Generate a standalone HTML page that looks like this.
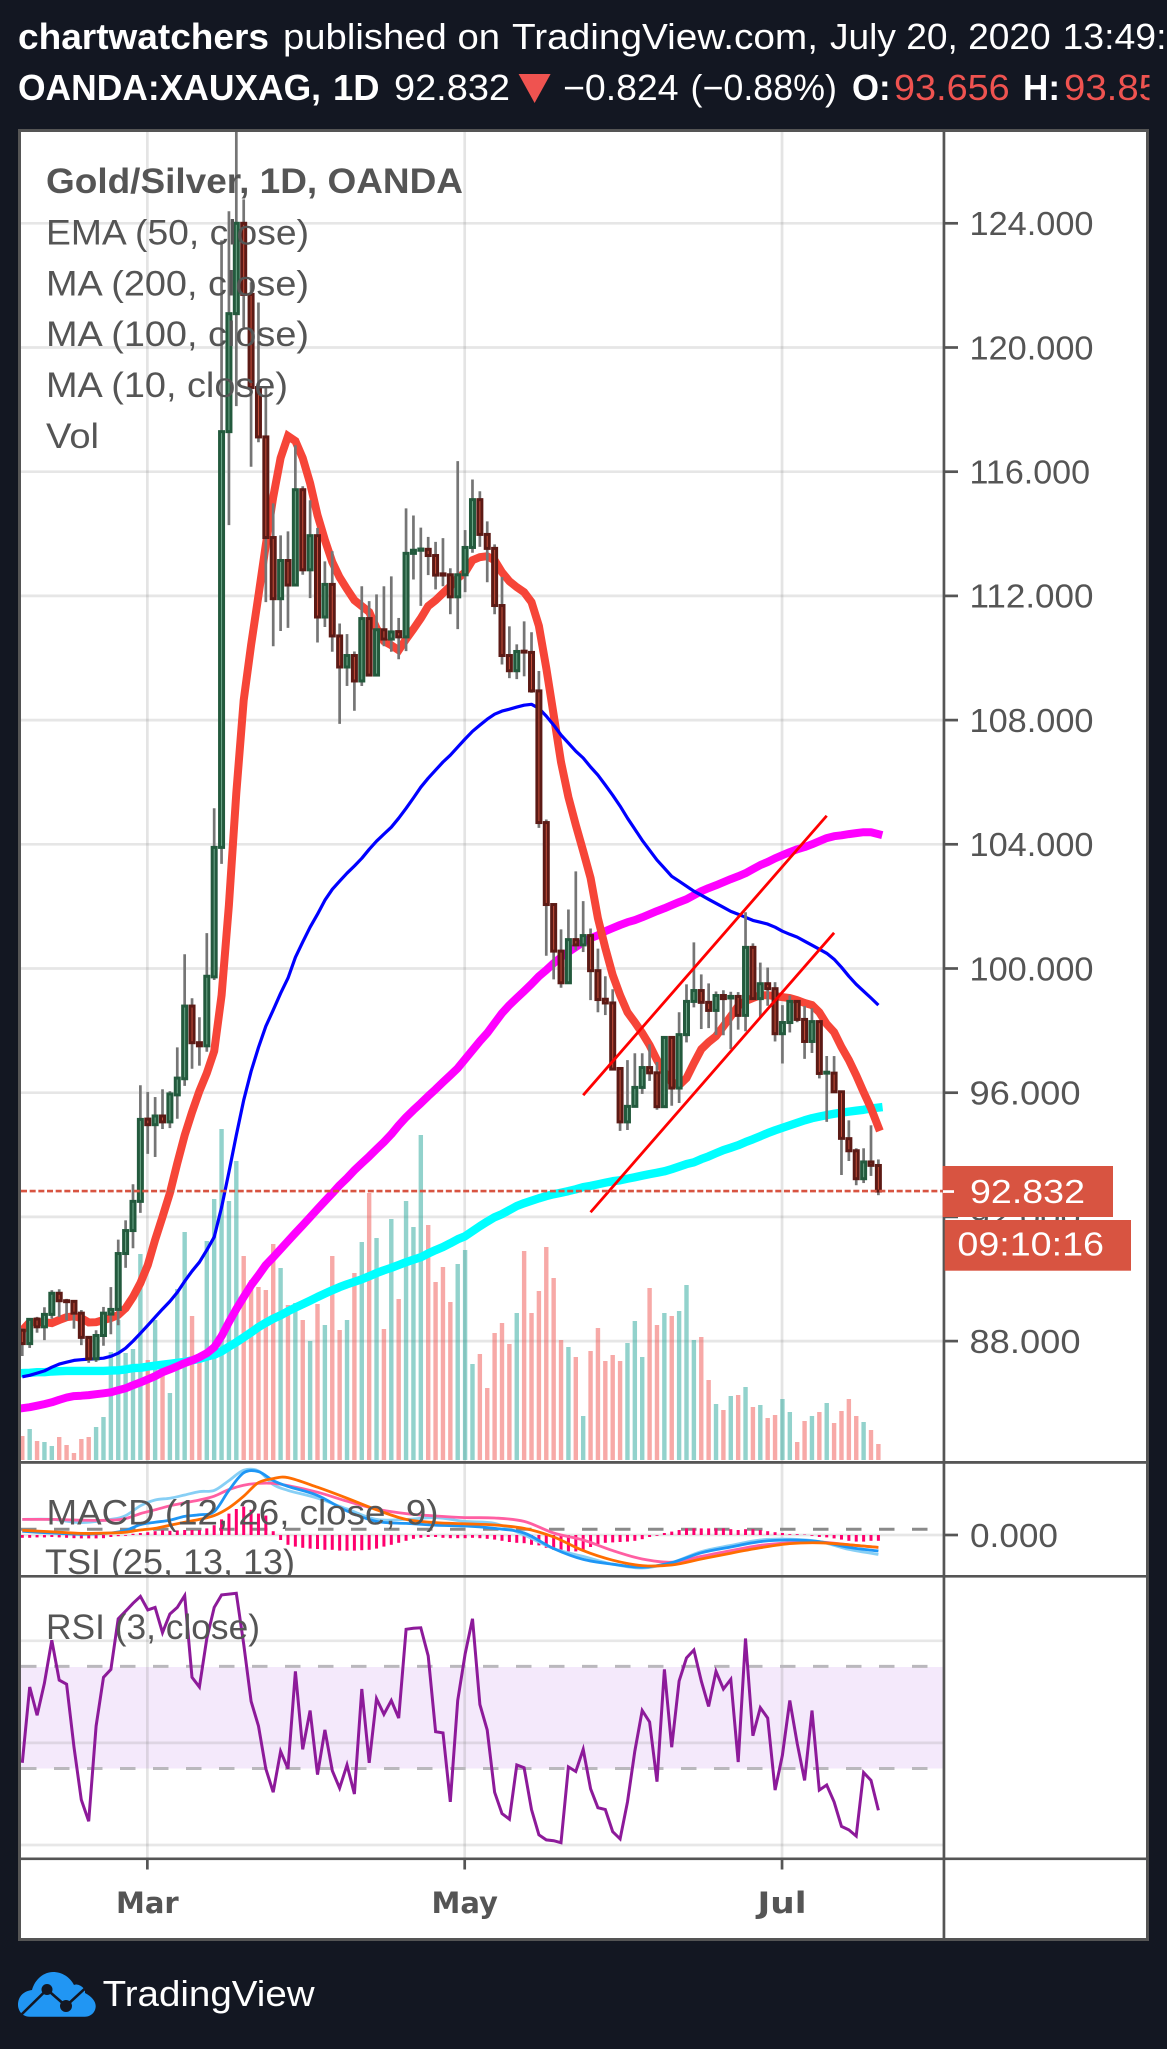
<!DOCTYPE html>
<html lang="en">
<head>
<meta charset="utf-8">
<title>Gold/Silver 1D chart</title>
<style>
html,body{margin:0;padding:0;background:#131722;width:1167px;height:2049px;overflow:hidden}
svg{display:block;position:absolute;left:0;top:0}
text{font-family:"Liberation Sans","DejaVu Sans",sans-serif}
.hd{font-size:36px;fill:#fff}
.b{font-weight:700}
.rd{fill:#ef5350}
.lg{font-size:35px;fill:#555}
.ax{font-size:33px;fill:#555}
.tm{font-family:"DejaVu Sans","Liberation Sans",sans-serif;font-weight:700;font-size:29px;fill:#555}
.lb{font-size:33px;fill:#fff}
</style>
</head>
<body>
<svg id="chart" width="1167" height="2049" viewBox="0 0 1167 2049">
<defs>
<clipPath id="clipMain"><rect x="21" y="132" width="922" height="1329"/></clipPath>
<clipPath id="clipMacd"><rect x="21" y="1464" width="922" height="111"/></clipPath>
<clipPath id="clipRsi"><rect x="21" y="1577.5" width="922" height="280"/></clipPath>
<clipPath id="clipHead"><rect x="0" y="60" width="1149.5" height="60"/></clipPath>
</defs>

<g>
<text class="hd b" x="18" y="49" textLength="251" lengthAdjust="spacingAndGlyphs">chartwatchers</text>
<text class="hd" x="283" y="49" textLength="217" lengthAdjust="spacingAndGlyphs">published on</text>
<text class="hd" x="512" y="49" textLength="306" lengthAdjust="spacingAndGlyphs">TradingView.com,</text>
<text class="hd" x="830" y="49" textLength="220.6" lengthAdjust="spacingAndGlyphs">July 20, 2020</text>
<text class="hd" x="1062.5" y="49" textLength="104" lengthAdjust="spacingAndGlyphs">13:49:</text>
</g>
<g clip-path="url(#clipHead)">
<text class="hd b" x="18" y="100" textLength="303" lengthAdjust="spacingAndGlyphs">OANDA:XAUXAG,</text>
<text class="hd b" x="333" y="100" textLength="46.5" lengthAdjust="spacingAndGlyphs">1D</text>
<text class="hd" x="394" y="100" textLength="116" lengthAdjust="spacingAndGlyphs">92.832</text>
<polygon points="518.6,74 550.6,74 534.6,103" fill="#ef5350"/>
<text class="hd" x="563" y="100" textLength="115.6" lengthAdjust="spacingAndGlyphs">−0.824</text>
<text class="hd" x="690.5" y="100" textLength="146.5" lengthAdjust="spacingAndGlyphs">(−0.88%)</text>
<text class="hd b" x="852" y="100" textLength="38.6" lengthAdjust="spacingAndGlyphs">O:</text>
<text class="hd rd" x="894" y="100" textLength="115.7" lengthAdjust="spacingAndGlyphs">93.656</text>
<text class="hd b" x="1023" y="100" textLength="37" lengthAdjust="spacingAndGlyphs">H:</text>
<text class="hd rd" x="1064" y="100" textLength="96" lengthAdjust="spacingAndGlyphs">93.85</text>
</g>

<rect x="19.5" y="130.5" width="1128" height="1809" fill="#fff" stroke="#555" stroke-width="3"/>

<g id="gridLayer"></g>
<rect x="21" y="1667" width="922" height="101.5" fill="#f4e9fb"/>
<g id="rsiGrid"></g>
<g id="vertGrid"></g>

<g clip-path="url(#clipMain)">
<g id="volLayer"></g>
<g id="maLayer"></g>
<g id="candleLayer"></g>
<g id="trendLayer"></g>
<line id="priceLine" x1="21" x2="943" stroke="#d85441" stroke-width="2.7" stroke-dasharray="6 2.67"/>
</g>

<g clip-path="url(#clipMacd)">
<line x1="21" x2="943" y1="1529.3" y2="1529.3" stroke="#8a8a8a" stroke-width="3" stroke-dasharray="15.5 17.5"/>
<g id="histLayer"></g>
<g id="macdLayer"></g>
<text class="lg" x="46.5" y="1524.7" textLength="392" lengthAdjust="spacingAndGlyphs">MACD (12, 26, close, 9)</text>
<text class="lg" x="45" y="1574" textLength="250" lengthAdjust="spacingAndGlyphs">TSI (25, 13, 13)</text>
</g>

<g clip-path="url(#clipRsi)">
<line x1="21" x2="943" y1="1666.4" y2="1666.4" stroke="#bab8bd" stroke-width="3" stroke-dasharray="15.5 17.5"/>
<line x1="21" x2="943" y1="1768.5" y2="1768.5" stroke="#bab8bd" stroke-width="3" stroke-dasharray="15.5 17.5"/>
<polyline id="rsiLine" fill="none" stroke="#8d1a9a" stroke-width="3" stroke-linejoin="miter"/>
<text class="lg" x="46" y="1639" textLength="214" lengthAdjust="spacingAndGlyphs">RSI (3, close)</text>
</g>

<g>
<text class="lg b" x="46" y="193" textLength="417" lengthAdjust="spacingAndGlyphs">Gold/Silver, 1D, OANDA</text>
<text class="lg" x="46" y="244.5" textLength="263" lengthAdjust="spacingAndGlyphs">EMA (50, close)</text>
<text class="lg" x="46" y="295.5" textLength="263" lengthAdjust="spacingAndGlyphs">MA (200, close)</text>
<text class="lg" x="46" y="346" textLength="263" lengthAdjust="spacingAndGlyphs">MA (100, close)</text>
<text class="lg" x="46" y="397" textLength="242" lengthAdjust="spacingAndGlyphs">MA (10, close)</text>
<text class="lg" x="46" y="448" textLength="53" lengthAdjust="spacingAndGlyphs">Vol</text>
</g>

<g>
<rect x="21" y="1461" width="1125" height="2.8" fill="#555"/>
<rect x="21" y="1575" width="1125" height="2.6" fill="#555"/>
<rect x="21" y="1857.5" width="1125" height="2.6" fill="#555"/>
<rect x="942.6" y="132" width="2.7" height="1806" fill="#555"/>
</g>

<g id="axisLayer"></g>
<g id="timeLayer"></g>

<g>
<rect x="942.6" y="1166" width="170.4" height="51" fill="#d85441"/>
<rect x="943" y="1190.2" width="11" height="2.7" fill="#fff"/>
<text class="lb" x="970" y="1203" textLength="115" lengthAdjust="spacingAndGlyphs">92.832</text>
</g>
<g>
<rect x="944.7" y="1220" width="186.3" height="50.7" fill="#d85441"/>
<text class="lb" x="957.4" y="1255.5" textLength="146.6" lengthAdjust="spacingAndGlyphs">09:10:16</text>
</g>

<g>
<path d="M30 2016.7C20 2016.7 18 2008 18 2005C18 1996 24 1991 32 1990C35 1979 44 1972 53 1972C62 1972 70 1977 74 1985C78 1983 86 1988 85 1993C91 1996 95.7 2001 95.7 2006C95.7 2012 91 2016.7 85 2016.7Z" fill="#2196f3"/>
<polyline points="21,2015 47,1989.5 66,2006 86,1987.6" fill="none" stroke="#131722" stroke-width="2.6"/>
<circle cx="47" cy="1989.5" r="5.5" fill="#131722"/>
<circle cx="66" cy="2006" r="6" fill="#131722"/>
<text x="102.6" y="2006" font-size="36" fill="#fff" textLength="212" lengthAdjust="spacingAndGlyphs">TradingView</text>
</g>
</svg>

<script>
/* ---------- candle data ---------- */
const opens=[88.35,87.92,88.71,88.46,88.86,89.54,89.30,89.28,88.90,88.12,
87.43,88.18,88.87,89.02,90.82,91.56,92.50,95.15,94.97,95.25,
95.06,95.93,96.45,98.79,97.61,97.51,99.73,103.90,117.29,121.09,
124.0,121.71,118.71,117.12,113.88,111.91,113.14,112.35,115.42,112.84,
113.94,111.32,112.37,110.71,109.71,110.08,109.26,111.27,109.45,110.91,
110.61,110.85,110.68,113.37,113.47,113.50,113.30,112.71,112.68,111.97,
112.68,113.56,115.10,113.98,113.53,111.69,110.08,109.59,110.22,110.18,
108.94,104.70,102.06,100.56,99.54,100.93,100.76,101.06,99.93,99.01,
98.89,96.78,95.06,95.56,96.17,96.81,96.64,95.55,97.78,96.15,
97.87,98.94,99.29,98.91,98.65,99.13,99.05,99.10,98.49,100.68,
99.03,99.51,99.35,97.90,98.26,98.94,98.36,97.65,98.29,96.63,
96.63,96.03,94.52,94.13,93.23,93.77,93.656];
const closes=[87.92,88.70,88.46,88.86,89.54,89.30,89.27,88.90,88.12,87.43,
88.18,88.90,89.02,90.82,91.56,92.50,95.14,94.97,95.25,95.06,
95.96,96.47,98.79,97.61,97.51,99.75,103.90,117.29,121.09,124.0,
121.71,118.71,117.12,113.88,111.91,113.14,112.35,115.42,112.84,113.94,
111.32,112.37,110.71,109.71,110.08,109.26,111.27,109.45,110.91,110.61,
110.84,110.68,113.37,113.47,113.51,113.30,112.67,112.67,111.97,112.68,
113.56,115.10,113.98,113.53,111.69,110.08,109.59,110.21,110.19,108.94,
104.70,102.06,100.56,99.54,100.93,100.76,101.06,99.93,99.0,98.89,
96.76,95.06,95.56,96.17,96.81,96.64,95.55,97.78,96.15,97.87,
98.94,99.29,98.91,98.65,99.13,99.03,99.10,98.49,100.68,99.03,
99.51,99.35,97.90,98.26,98.94,98.36,97.65,98.29,96.62,96.66,
96.03,94.53,94.13,93.23,93.77,93.66,92.832];
const highs=[88.41,88.73,88.78,89.09,89.64,89.67,89.36,89.32,89.00,88.16,
88.35,89.10,89.74,91.27,91.89,93.05,96.24,96.02,95.86,96.11,
96.05,97.46,100.46,99.04,98.43,101.14,105.16,123.45,124.39,127.0,
124.77,122.1,121.45,118.69,114.98,113.95,114.08,116.85,115.53,115.08,
114.19,113.11,113.44,111.11,110.77,110.21,112.31,111.83,112.05,112.31,
112.63,111.29,114.82,114.59,114.20,113.90,113.74,113.86,112.89,116.34,
114.12,115.75,115.37,114.40,113.66,112.61,111.02,110.44,111.18,110.83,
109.58,104.80,102.07,101.26,101.90,103.13,102.17,101.29,100.64,99.75,
99.33,96.79,97.05,97.27,97.27,97.56,96.99,97.79,97.79,98.59,
99.49,100.84,99.81,99.52,99.26,99.30,99.25,99.24,101.81,100.81,
100.19,100.03,99.56,98.82,99.13,98.95,98.79,98.72,98.30,97.18,
97.18,96.05,95.11,94.21,94.21,94.95,93.85];
const lows=[87.52,87.78,88.27,88.03,88.72,88.78,88.67,88.40,87.87,87.30,
87.33,87.85,88.22,88.51,90.36,90.99,92.13,94.03,93.93,94.83,
94.86,95.16,96.22,96.77,96.87,97.32,99.63,103.37,114.28,118.11,
120.64,116.16,116.95,111.80,110.38,110.87,110.97,112.34,112.68,111.93,
110.50,111.0,110.2,107.88,109.10,108.30,109.10,109.45,109.45,110.38,
110.20,109.96,110.22,112.53,111.68,112.67,112.21,112.31,111.41,110.93,
112.12,113.39,113.58,112.44,111.41,109.79,109.35,109.32,109.41,108.88,
104.53,100.41,99.65,99.38,99.54,100.59,100.53,98.98,98.59,98.50,
96.76,94.77,94.80,95.56,95.96,96.38,95.45,95.55,95.58,95.67,
97.62,98.75,98.05,98.08,97.86,97.85,97.40,98.03,97.98,99.03,
98.41,98.80,97.65,96.94,97.94,98.27,97.09,97.28,96.46,95.06,
96.03,93.35,93.80,93.02,93.09,93.32,92.70];
const volumes=[24,31,19,18,14,23,15,7,21,23,33,43,108,140,107,111,206,100,140,87,
67,171,228,144,100,219,261,331,259,299,204,180,173,170,216,192,155,157,140,119,
156,135,204,130,140,187,218,267,222,131,241,161,259,233,325,235,178,193,158,196,
210,96,106,72,127,137,116,147,209,147,169,213,182,120,113,103,44,109,132,99,
105,99,117,139,103,172,135,147,144,149,175,120,123,80,56,50,64,65,73,53,
55,42,45,61,48,18,39,44,48,57,37,49,61,44,38,30,16];

/* ---------- moving averages ---------- */
const ma10=[88.35,88.61,88.61,88.61,88.58,88.68,88.77,88.80,88.74,88.60,
88.61,88.68,88.74,88.84,89.06,89.42,89.87,90.45,91.26,92.0,
92.77,93.73,94.63,95.37,96.05,96.63,97.34,99.14,102.04,105.65,
108.64,110.42,112.02,113.64,115.18,116.44,117.15,116.99,116.44,115.63,
114.60,113.80,113.09,112.60,112.22,111.86,111.67,111.48,110.96,110.54,
110.41,110.25,110.61,110.93,111.28,111.67,111.86,112.09,112.31,112.57,
112.76,113.15,113.25,113.28,113.15,112.76,112.47,112.28,112.12,111.80,
111.03,109.67,108.16,106.65,105.52,104.62,103.78,102.91,101.62,100.66,
99.79,99.14,98.59,98.27,97.92,97.53,97.05,96.66,96.34,96.24,
96.47,96.95,97.40,97.63,97.82,98.14,98.46,98.79,98.95,99.05,
99.14,99.14,99.11,99.08,99.05,98.98,98.89,98.82,98.59,98.21,
97.95,97.47,97.05,96.56,96.02,95.50,94.89];
const ema50=[86.85,86.90,86.97,87.04,87.16,87.26,87.32,87.38,87.40,87.42,
87.43,87.45,87.51,87.61,87.77,88.0,88.25,88.51,88.77,89.03,
89.28,89.57,89.93,90.25,90.54,90.93,91.35,92.31,93.44,94.63,
95.76,96.69,97.46,98.14,98.66,99.20,99.69,100.36,100.85,101.33,
101.75,102.20,102.55,102.81,103.07,103.30,103.55,103.84,104.10,104.33,
104.55,104.84,105.16,105.49,105.84,106.13,106.39,106.65,106.87,107.13,
107.39,107.64,107.84,108.03,108.19,108.29,108.35,108.42,108.48,108.51,
108.38,108.13,107.84,107.52,107.26,107.0,106.78,106.49,106.23,105.91,
105.58,105.23,104.84,104.49,104.13,103.81,103.49,103.23,102.97,102.81,
102.65,102.49,102.36,102.23,102.10,101.97,101.84,101.75,101.65,101.55,
101.49,101.43,101.33,101.20,101.10,101.01,100.88,100.75,100.62,100.49,
100.30,100.04,99.75,99.49,99.27,99.05,98.82];
const ma100=[85.84,85.87,85.92,85.97,86.03,86.11,86.18,86.23,86.24,86.26,
86.29,86.32,86.35,86.42,86.48,86.58,86.67,86.77,86.87,87.0,
87.09,87.19,87.29,87.38,87.48,87.61,87.80,88.16,88.61,89.03,
89.42,89.80,90.12,90.45,90.70,90.96,91.22,91.48,91.73,91.99,
92.25,92.51,92.76,93.02,93.25,93.50,93.73,93.95,94.18,94.41,
94.66,94.95,95.21,95.44,95.66,95.89,96.11,96.34,96.56,96.79,
97.08,97.37,97.66,97.92,98.24,98.56,98.82,99.05,99.27,99.50,
99.75,99.95,100.17,100.36,100.53,100.69,100.85,100.98,101.07,101.20,
101.30,101.40,101.49,101.56,101.65,101.75,101.85,101.94,102.04,102.14,
102.23,102.36,102.49,102.59,102.68,102.78,102.88,102.97,103.07,103.20,
103.33,103.43,103.55,103.65,103.75,103.84,103.91,104.0,104.10,104.20,
104.26,104.29,104.33,104.36,104.39,104.39,104.33];
const ma200=[86.97,86.98,87.0,87.0,87.02,87.03,87.04,87.04,87.04,87.04,
87.04,87.04,87.05,87.06,87.09,87.13,87.14,87.18,87.21,87.24,
87.27,87.30,87.33,87.38,87.43,87.50,87.56,87.67,87.82,87.96,
88.12,88.28,88.45,88.59,88.72,88.83,88.96,89.08,89.19,89.30,
89.42,89.53,89.64,89.74,89.83,89.91,89.99,90.09,90.19,90.28,
90.36,90.45,90.54,90.62,90.70,90.82,90.93,91.03,91.15,91.28,
91.38,91.54,91.70,91.85,91.99,92.09,92.22,92.35,92.44,92.52,
92.60,92.67,92.73,92.78,92.83,92.89,92.96,93.0,93.05,93.10,
93.15,93.18,93.23,93.28,93.33,93.38,93.42,93.47,93.54,93.62,
93.70,93.76,93.86,93.95,94.05,94.15,94.23,94.31,94.41,94.50,
94.60,94.70,94.79,94.87,94.95,95.03,95.11,95.18,95.23,95.28,
95.32,95.36,95.39,95.42,95.45,95.49,95.52];

/* ---------- MACD / TSI pane ---------- */
const macdHist=[-.14,-.14,-.12,-.12,-.10,-.12,-.14,-.16,-.17,-.17,
-.17,-.16,-.10,-.06,-.04,.06,.10,.14,.19,.23,
.21,.23,.25,.25,.25,.33,.49,.78,1.07,1.30,
1.42,1.26,1.07,.97,.19,-.25,-.49,-.58,-.64,-.68,
-.70,-.74,-.74,-.78,-.78,-.78,-.76,-.74,-.68,-.58,
-.49,-.39,-.29,-.19,-.14,-.10,-.10,-.14,-.16,-.16,
-.16,-.14,-.16,-.19,-.23,-.29,-.35,-.39,-.41,-.49,
-.52,-.64,-.74,-.82,-.82,-.82,-.82,-.60,-.45,-.39,
-.37,-.35,-.33,-.29,-.21,-.10,-.04,.10,.17,.25,
.33,.33,.33,.33,.33,.33,.29,.25,.29,.29,
.25,.19,.14,.10,.04,.04,.02,-.04,-.10,-.12,
-.17,-.23,-.29,-.33,-.33,-.29,-.29];
const macdSampleBars=[0,4,8,12,14,16,18,20,22,24,26,28,30,32,34,36,40,44,48,52,56,60,64,68,72,76,80,84,88,92,96,100,104,108,112,116];
const macdLineValues=[.19,.10,.04,.10,.23,.52,.64,.74,.93,1.01,1.17,2.23,3.11,3.17,2.72,2.43,1.98,1.20,.68,.58,.49,.45,.33,.10,-.68,-1.22,-1.46,-1.61,-1.38,-.89,-.60,-.33,-.25,-.33,-.62,-.80];
const macdSignalValues=[.23,.16,.08,.10,.14,.25,.33,.49,.64,.78,.97,1.36,1.94,2.62,2.82,2.87,2.39,1.84,1.26,.78,.62,.56,.50,.33,-.10,-.78,-1.26,-1.53,-1.50,-1.20,-.91,-.64,-.43,-.39,-.49,-.62];
const tsiLineValues=[.78,.78,.62,.78,.97,1.46,1.75,1.84,2.0,2.17,2.23,2.72,3.24,3.20,2.52,2.23,1.84,1.30,.78,.78,.87,.68,.58,0,-.68,-1.07,-1.46,-1.65,-1.38,-.83,-.52,-.25,-.21,-.33,-.72,-.97];
const tsiSignalValues=[.78,.78,.74,.74,.82,1.07,1.26,1.46,1.61,1.75,1.94,2.27,2.49,2.58,2.58,2.47,2.14,1.69,1.30,1.07,.95,.87,.85,.68,.10,-.25,-.78,-1.20,-1.36,-1.07,-.78,-.52,-.39,-.35,-.49,-.62];

/* ---------- RSI pane ---------- */
const rsiValues=[32.2,61.9,50.8,63.4,80.2,64.6,63,38.3,17.7,9.3,
46.6,65.7,68.8,88.6,91.6,94.7,97.4,92.1,93.1,83.2,
90.5,93.1,97.7,65.7,61.9,80.9,93.1,98,98.3,98.6,
78.7,56.3,46.6,29.9,20.7,36.7,29.9,68,37.5,52.7,
27.6,45.1,29.1,22.3,31.4,20,61.1,32.2,57.3,51.2,
56.6,49.7,84.5,84.9,85.1,74.1,44.4,43.9,16.9,56.6,
74.8,88.6,55,45.1,20.7,12.3,10.1,31.4,30.3,13.9,
4,2,1.7,.9,30.6,28.8,37.5,22,14.6,13.9,
5.2,2.4,16.9,36.7,52.7,48.2,24.8,68.8,38.3,64.2,
73.3,76.4,64.2,54.3,68,61.1,64.9,32.5,80.9,42.8,
53.8,49.7,21.5,35.2,56.6,39.8,25.3,52.7,21.5,23.5,
16.9,7.3,5.9,3.5,28.4,25.3,13.6];

/* ---------- axis ticks and drawings ---------- */
const priceTicks=[124,120,116,112,108,104,100,96,92,88];
const macdTicks=[0];
const rsiGridLevels=[80,40,0];
const timeBars=[17,60,103];
const timeLabels=['Mar','May','Jul'];
const lastPrice=92.832;
const channelUpper=[[76,95.92],[109,104.92]];
const channelLower=[[77,92.15],[110,101.15]];

/* ---------- axis functions ---------- */
function barX(i){return 22.3+7.38*i;}
function priceY(p){return 223.3+(124-p)*31.05;}
function volY(v){return 1460-v;}
function macdY(v){return 1535-v*20;}
function rsiY(v){return 1845-2.5525*v;}

const svg=document.getElementById('chart');
function mk(tag,attrs,parent){
  const e=document.createElementNS(svg.namespaceURI,tag);
  for(const k in attrs){e.setAttribute(k,attrs[k]);}
  parent.appendChild(e);
  return e;
}
const gridLayer=document.getElementById('gridLayer');
const rsiGrid=document.getElementById('rsiGrid');
const vertGrid=document.getElementById('vertGrid');
const axisLayer=document.getElementById('axisLayer');
const timeLayer=document.getElementById('timeLayer');
const GRID='#e6e6e6';

priceTicks.forEach(function(p){
  const y=priceY(p);
  const g=mk('line',{x1:21,x2:943,y1:y,y2:y,stroke:GRID,'stroke-width':2.7},gridLayer);
  
  
  const t=mk('rect',{x:945,y:y-1.35,width:13,height:2.7,fill:'#555'},axisLayer);
  
  
  const isShort=p<100;
  const l=mk('text',{'class':'ax',x:969.5,y:y+11.8,textLength:isShort?111:(p===116?120.5:124),lengthAdjust:'spacingAndGlyphs'},axisLayer);
  l.textContent=p.toFixed(3);
  
  
});
macdTicks.forEach(function(v){
  const y=macdY(v);
  const g=mk('line',{x1:21,x2:943,y1:y,y2:y,stroke:GRID,'stroke-width':2.7},gridLayer);
  
  
  const t=mk('rect',{x:945,y:y-1.35,width:13,height:2.7,fill:'#555'},axisLayer);
  
  
  const l=mk('text',{'class':'ax',x:970,y:y+11.8,textLength:88,lengthAdjust:'spacingAndGlyphs'},axisLayer);
  l.textContent=v.toFixed(3);
  
  
});
rsiGridLevels.forEach(function(v){
  const y=rsiY(v);
  const g=mk('line',{x1:21,x2:943,y1:y,y2:y,stroke:'rgba(120,120,120,0.18)','stroke-width':2.7},rsiGrid);
  
  
});
timeBars.forEach(function(b,k){
  const x=barX(b)-0.4;
  const g=mk('line',{x1:x,x2:x,y1:132,y2:1857.5,stroke:'rgba(120,120,120,0.2)','stroke-width':2.7},vertGrid);
  
  
  const t=mk('rect',{x:x-1.35,y:1860,width:2.7,height:9.5,fill:'#555'},timeLayer);
  
  
  const l=mk('text',{'class':'tm',x:x,y:1913,'text-anchor':'middle'},timeLayer);
  l.textContent=timeLabels[k];
  if(timeLabels[k]==='Jul'){
    l.setAttribute('textLength','49');
    l.setAttribute('lengthAdjust','spacingAndGlyphs');
  }
  
  
});

/* volume */
const volLayer=document.getElementById('volLayer');
volumes.forEach(function(v,i){
  const up=closes[i]>=opens[i];
  const b=mk('rect',{x:barX(i)-2.2,y:volY(v),width:4.4,height:1460-volY(v),fill:up?'rgba(38,166,154,0.5)':'rgba(239,83,80,0.5)'},volLayer);
  
  
});

/* moving averages */
const maLayer=document.getElementById('maLayer');
function pts(vals,yf){return vals.map(function(v,i){return barX(i).toFixed(1)+','+yf(v).toFixed(1);}).join(' ');}
const ma200Line=mk('polyline',{points:pts(ma200,priceY),fill:'none',stroke:'#00ffff','stroke-width':8.4,'stroke-linejoin':'round','stroke-linecap':'square'},maLayer);


const ma100Line=mk('polyline',{points:pts(ma100,priceY),fill:'none',stroke:'#ff00ff','stroke-width':8,'stroke-linejoin':'round','stroke-linecap':'square'},maLayer);


const ma10Line=mk('polyline',{points:pts(ma10,priceY),fill:'none',stroke:'#f64538','stroke-width':8,'stroke-linejoin':'miter','stroke-miterlimit':6,'stroke-linecap':'square'},maLayer);


const emaLine=mk('polyline',{points:pts(ema50,priceY),fill:'none',stroke:'#0000ff','stroke-width':3.2,'stroke-linejoin':'round'},maLayer);



/* candles */
const candleLayer=document.getElementById('candleLayer');
opens.forEach(function(o,i){
  const x=barX(i);
  const w=mk('line',{x1:x,x2:x,y1:priceY(highs[i]),y2:priceY(lows[i]),stroke:'#757575','stroke-width':2.7},candleLayer);
  
  
});
opens.forEach(function(o,i){
  const c=closes[i],x=barX(i),up=c>=o;
  const top=priceY(Math.max(o,c)),bot=priceY(Math.min(o,c));
  const b=mk('rect',{x:x-2,y:top,width:4,height:Math.max(bot-top,0.4),fill:up?'#6fa88a':'#c5503c',stroke:up?'#235a3d':'#5c1a15','stroke-width':3},candleLayer);
  
  
});

/* trend channel */
const trendLayer=document.getElementById('trendLayer');
[channelUpper,channelLower].forEach(function(seg){
  const l=mk('line',{x1:barX(seg[0][0]),y1:priceY(seg[0][1]),x2:barX(seg[1][0]),y2:priceY(seg[1][1]),stroke:'#ff0000','stroke-width':2.8},trendLayer);
  
  
});

/* last price line */
const pl=document.getElementById('priceLine');
pl.setAttribute('y1',priceY(lastPrice));
pl.setAttribute('y2',priceY(lastPrice));

/* MACD */
const histLayer=document.getElementById('histLayer');
macdHist.forEach(function(v,i){
  const y0=macdY(0),y1=macdY(v);
  const b=mk('rect',{x:barX(i)-1.5,y:Math.min(y0,y1),width:3,height:Math.abs(y1-y0),fill:'#ff006e'},histLayer);
  
  
});
const macdLayer=document.getElementById('macdLayer');
function smoothPath(vals){
  const p=vals.map(function(v,k){return [barX(macdSampleBars[k]),macdY(v)];});
  let d='M'+p[0][0].toFixed(1)+' '+p[0][1].toFixed(1);
  for(let k=0;k<p.length-1;k++){
    const a=p[Math.max(k-1,0)],b=p[k],c=p[k+1],e=p[Math.min(k+2,p.length-1)];
    const c1x=b[0]+(c[0]-a[0])/6,c1y=b[1]+(c[1]-a[1])/6;
    const c2x=c[0]-(e[0]-b[0])/6,c2y=c[1]-(e[1]-b[1])/6;
    d+='C'+c1x.toFixed(1)+' '+c1y.toFixed(1)+' '+c2x.toFixed(1)+' '+c2y.toFixed(1)+' '+c[0].toFixed(1)+' '+c[1].toFixed(1);
  }
  return d;
}
const tsiA=mk('path',{d:smoothPath(tsiLineValues),fill:'none',stroke:'#87cff5','stroke-width':2.8},macdLayer);


const tsiB=mk('path',{d:smoothPath(tsiSignalValues),fill:'none',stroke:'#ff5fa2','stroke-width':2.8},macdLayer);


const macdA=mk('path',{d:smoothPath(macdLineValues),fill:'none',stroke:'#1e96f5','stroke-width':2.8},macdLayer);


const macdB=mk('path',{d:smoothPath(macdSignalValues),fill:'none',stroke:'#ff6d00','stroke-width':2.8},macdLayer);



/* RSI */
document.getElementById('rsiLine').setAttribute('points',pts(rsiValues,rsiY));
</script>
</body>
</html>
